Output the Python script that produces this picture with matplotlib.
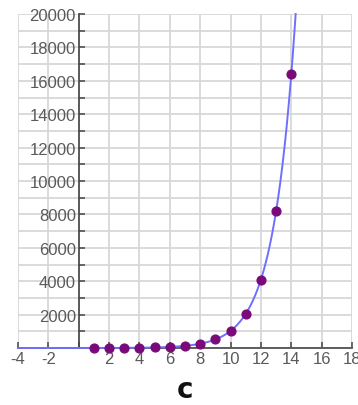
import numpy as np
import matplotlib
matplotlib.use("Agg")
import matplotlib.pyplot as plt
from matplotlib.ticker import MultipleLocator, FixedLocator

# data
point_x = [1, 2, 3, 4, 5, 6, 7, 8, 9, 10, 11, 12, 13, 14]
point_y = [2, 4, 8, 16, 32, 64, 128, 256, 512, 1024, 2048, 4096, 8192, 16384]
curve_base = 2
x_ticks = [-4, -2, 2, 4, 6, 8, 10, 12, 14, 16, 18]
y_ticks = [2000, 4000, 6000, 8000, 10000, 12000, 14000, 16000, 18000, 20000]
caption = "c"

plt.rcParams['font.family'] = ['Liberation Sans', 'DejaVu Sans']

fig = plt.figure(figsize=(3.58, 4.06), dpi=100)
ax = fig.add_axes([18/358, 1-349/406, (352-18)/358, (349-15)/406])

ax.set_xlim(-4, 18)
ax.set_ylim(0, 20000)

# grid
ax.xaxis.set_minor_locator(MultipleLocator(2))
ax.yaxis.set_minor_locator(MultipleLocator(1000))
ax.grid(which='minor', color='#d8d8d8', linewidth=1.3, zorder=0)
ax.grid(which='major', color='#d8d8d8', linewidth=1.3, zorder=0)

# spines through zero
for s in ['top', 'right']:
    ax.spines[s].set_visible(False)
ax.spines['left'].set_position(('data', 0))
ax.spines['bottom'].set_position(('data', 0))
ax.spines['left'].set_color('#444444')
ax.spines['bottom'].set_color('#444444')
ax.spines['left'].set_linewidth(1.2)
ax.spines['bottom'].set_linewidth(1.2)

ax.xaxis.set_major_locator(FixedLocator(x_ticks))
ax.yaxis.set_major_locator(FixedLocator(y_ticks))
ax.set_xticklabels([str(t) for t in x_ticks])
ax.set_yticklabels([str(t) for t in y_ticks])
ax.tick_params(axis='both', which='both', direction='in', color='#444444',
               labelcolor='#5a5a5a', labelsize=12, length=4, width=1.1)
ax.tick_params(axis='x', pad=2)
ax.tick_params(axis='y', pad=2)

# curve
xs = np.linspace(-4, np.log2(20000), 400)
ax.plot(xs, curve_base ** xs, color='#6f6fff', linewidth=1.4, zorder=3, clip_on=False)

# points
ax.scatter(point_x, point_y, s=40, color='#7a0a7a', zorder=4, clip_on=False)

fig.text(185/358, 1-390/406, caption, ha='center', va='center',
         fontsize=20, fontweight='bold', family=['DejaVu Sans'], color='#111111')

fig.savefig('out.png', dpi=100)
